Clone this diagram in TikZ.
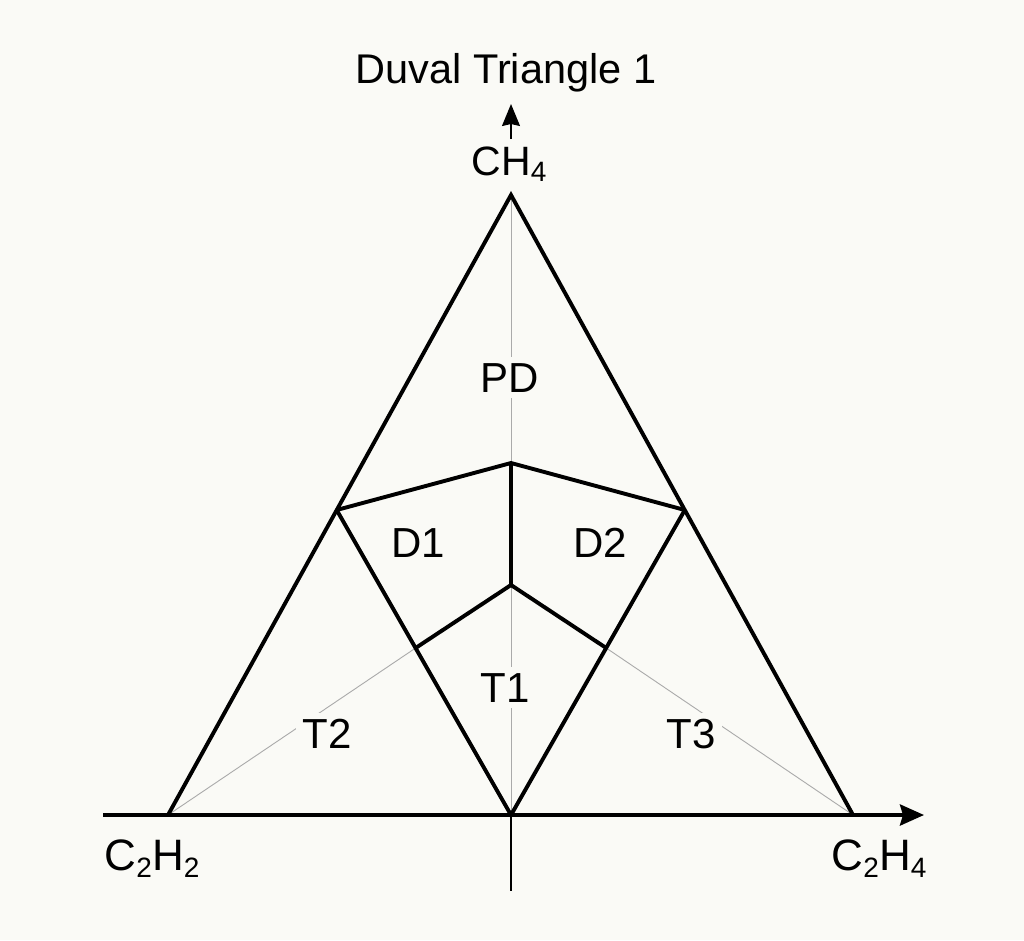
\documentclass[tikz,border=0pt]{standalone}
\usepackage{fontspec}
\setmainfont{Liberation Sans}
\usetikzlibrary{arrows.meta}
\definecolor{bg}{RGB}{250,250,246}
\definecolor{thin}{RGB}{170,170,170}
\newcommand{\mysub}[1]{\raisebox{-0.16em}{\fontsize{28}{28}\selectfont #1}}
\tikzset{
  bold/.style={line width=3.9pt, line join=miter, line cap=butt},
  guide/.style={line width=0.9pt, draw=thin},
  region/.style={font=\fontsize{42}{42}\selectfont, anchor=base, fill=bg, inner sep=6pt},
  gas/.style={font=\fontsize{44}{44}\selectfont, anchor=base, inner sep=0pt},
}
\begin{document}
\begin{tikzpicture}[x=1pt,y=-1pt]
\fill[bg] (0,0) rectangle (1024,940);
\useasboundingbox (0,0) rectangle (1024,940);
% vertices
\coordinate (A) at (511,195);
\coordinate (L) at (168,815);
\coordinate (R) at (853,815);
\coordinate (M) at (511,815);
\coordinate (PL) at (336.7,510);
\coordinate (PR) at (684.8,510);
\coordinate (TC) at (511,463);
\coordinate (CC) at (511,585);
\coordinate (QL) at (415.6,648);
\coordinate (QR) at (606.2,648);
\coordinate (XA) at (103,815);
\coordinate (XB) at (924,815);
\coordinate (YB) at (511,891);
\coordinate (ZA) at (511,139);
\coordinate (ZB) at (511,104);
% guides
\draw[guide] (A) -- (M);
\draw[guide] (L) -- (QL);
\draw[guide] (R) -- (QR);
\draw[line width=1.2pt] (M) -- (YB);
% axes
\draw[bold, -{Stealth[length=24pt,width=21pt,inset=3pt]}] (XA) -- (XB);
\draw[line width=1.4pt, -{Stealth[length=22pt,width=18pt,inset=2pt]}] (ZA) -- (ZB);
% triangle and zones
\draw[bold] (L) -- (A) -- (R);
\draw[bold] (PL) -- (TC) -- (PR);
\draw[bold] (TC) -- (CC);
\draw[bold] (QL) -- (CC) -- (QR);
\draw[bold] (PL) -- (M) -- (PR);
% labels
\node[region] (pd) at (510,392) {PD};
\node[region] (d1) at (418,557) {D1};
\node[region] (d2) at (600,557) {D2};
\node[region] (t1) at (505,702) {T1};
\node[region] (t2) at (327,748) {T2};
\node[region] (t3) at (691,748) {T3};
\node[gas, font=\fontsize{41.5}{41.5}\selectfont] (title) at (506,83) {Duval Triangle 1};
\node[gas, font=\fontsize{41}{41}\selectfont] (ch4) at (509,175) {CH\mysub{4}};
\node[gas] (c2h2) at (152,870) {C\mysub{2}H\mysub{2}};
\node[gas] (c2h4) at (879,870) {C\mysub{2}H\mysub{4}};
\end{tikzpicture}
\end{document}
